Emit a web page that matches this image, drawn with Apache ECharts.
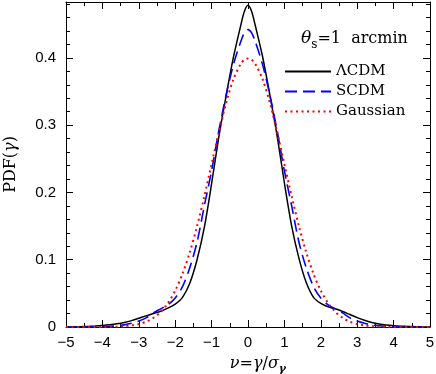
<!DOCTYPE html>
<html>
<head>
<meta charset="utf-8">
<script src="https://cdn.jsdelivr.net/npm/echarts@6/dist/echarts.min.js"></script>
<style>html,body{margin:0;padding:0;background:#fff;}#c{width:436px;height:374px;}</style>
</head>
<body>
<div id="c"></div>
<script>
// nu values
var nu = [-5.0,-4.8,-4.6,-4.4,-4.2,-4.0,-3.8,-3.6,-3.4,-3.2,-3.0,-2.8,-2.6,-2.4,-2.2,-2.0,-1.8,-1.6,-1.4,-1.2,-1.0,-0.8,-0.6,-0.4,-0.2,-0.1,
          0.0,0.1,0.2,0.4,0.6,0.8,1.0,1.2,1.4,1.6,1.8,2.0,2.2,2.4,2.6,2.8,3.0,3.2,3.4,3.6,3.8,4.0,4.2,4.4,4.6,4.8,5.0];
var lcdm = [0.0001,0.0002,0.0004,0.0008,0.0014,0.0022,0.0033,0.0048,0.0068,0.0095,0.0130,0.0165,0.0200,0.0235,0.0280,0.0340,0.0440,0.0650,0.1000,0.1480,0.2130,0.2830,0.3440,0.4010,0.4480,0.4690,
            0.4780,0.4690,0.4480,0.4020,0.3450,0.2840,0.2140,0.1500,0.1020,0.0660,0.0440,0.0350,0.0300,0.0270,0.0230,0.0185,0.0140,0.0100,0.0068,0.0045,0.0030,0.0020,0.0013,0.0008,0.0004,0.0002,0.0001];
var scdm = [0.0000,0.0000,0.0001,0.0001,0.0003,0.0005,0.0010,0.0018,0.0032,0.0055,0.0088,0.0135,0.0210,0.0270,0.0330,0.0430,0.0600,0.0880,0.1260,0.1800,0.2320,0.2920,0.3450,0.3900,0.4240,0.4370,
            0.4420,0.4370,0.4240,0.3900,0.3450,0.2920,0.2320,0.1800,0.1260,0.0880,0.0600,0.0430,0.0330,0.0270,0.0210,0.0135,0.0088,0.0055,0.0032,0.0018,0.0010,0.0005,0.0003,0.0001,0.0001,0.0000,0.0000];
var gauss = [0.0000,0.0000,0.0000,0.0000,0.0001,0.0001,0.0003,0.0006,0.0012,0.0024,0.0044,0.0079,0.0136,0.0224,0.0355,0.0540,0.0790,0.1109,0.1497,0.1942,0.2420,0.2897,0.3332,0.3683,0.3910,0.3970,
             0.3989,0.3970,0.3910,0.3683,0.3332,0.2897,0.2420,0.1942,0.1497,0.1109,0.0790,0.0540,0.0355,0.0224,0.0136,0.0079,0.0044,0.0024,0.0012,0.0006,0.0003,0.0001,0.0001,0.0000,0.0000,0.0000,0.0000];
var seriesNames = ['ΛCDM','SCDM','Gaussian'];
var xTicks = {min:-5, max:5, step:1};
var yTicks = {min:0, max:0.483, major:0.1, minor:0.02};

function pairs(arr){ return nu.map(function(x,i){ return [x, arr[i]]; }); }
var serif = 'DejaVu Serif';
var sans = 'Liberation Sans';

var chart = echarts.init(document.getElementById('c'), null, {renderer:'canvas'});
function xAx(pos, labels){
  return {type:'value', position:pos, min:xTicks.min, max:xTicks.max, interval:xTicks.step,
    axisLine:{show:true, onZero:false, lineStyle:{color:'#000', width:1}},
    axisTick:{show:true, inside:true, length:7, lineStyle:{color:'#000'}},
    minorTick:{show:true, splitNumber:2, length:4, lineStyle:{color:'#000'}},
    splitLine:{show:false},
    axisLabel:{show:labels, margin:8, color:'#000', fontFamily:sans, fontSize:15,
      formatter:function(v){ return v<0 ? '\u2212'+Math.abs(v) : String(v); }},
    name: labels ? '{i|ν}={i|γ}/{i|σ}{sub|γ}' : '',
    nameLocation:'middle', nameGap:26,
    nameTextStyle:{fontFamily:serif, fontSize:16, color:'#000', padding:[0,0,0,20],
      rich:{i:{fontFamily:serif, fontStyle:'italic', fontSize:16, lineHeight:22},
            sub:{fontFamily:serif, fontStyle:'italic', fontWeight:'bold', fontSize:11, lineHeight:11, verticalAlign:'bottom'}}}
  };
}
function yAx(pos, step, len, labels, line){
  return {type:'value', position:pos, min:yTicks.min, max:yTicks.max, interval:step,
    axisLine:{show:line, onZero:false, lineStyle:{color:'#000', width:1}},
    axisTick:{show:true, inside:true, length:len, lineStyle:{color:'#000'}},
    splitLine:{show:false},
    axisLabel:{show:labels, margin:10, color:'#000', fontFamily:sans, fontSize:15,
      formatter:function(v){ var k=Math.round(v*10); if (Math.abs(v*10-k)>1e-6) return ''; return k===0?'0':(k/10).toFixed(1); }},
    name: labels ? 'PDF({i|γ})' : '',
    nameLocation:'middle', nameGap:47, nameRotate:90,
    nameTextStyle:{fontFamily:serif, fontSize:16, color:'#000',
      rich:{i:{fontFamily:serif, fontStyle:'italic', fontSize:16}}}
  };
}
var option = {
  animation:false,
  backgroundColor:'#fff',
  grid:{left:66, right:6, top:2, bottom:47, containLabel:false, outerBoundsMode:'none'},
  title:{text:'{t|θ}{s|s}{n|=1  arcmin}', left:296, top:22,
    textStyle:{fontWeight:'normal', rich:{
      t:{fontFamily:serif, fontStyle:'italic', fontWeight:'normal', fontSize:17, lineHeight:24, color:'#000'},
      s:{fontFamily:serif, fontWeight:'normal', fontSize:12, lineHeight:12, verticalAlign:'bottom', color:'#000'},
      n:{fontFamily:serif, fontWeight:'normal', fontSize:16, lineHeight:24, color:'#000'}}}},
  legend:{orient:'vertical', left:279, top:59, itemWidth:46, itemHeight:14, itemGap:5,
    itemStyle:{opacity:0},
    data:seriesNames, textStyle:{fontFamily:serif, fontSize:15, color:'#000'}},
  xAxis:[xAx('bottom', true), xAx('top', false)],
  yAxis:[yAx('left', yTicks.major, 7, true, true), yAx('left', yTicks.minor, 4, false, false),
         yAx('right', yTicks.major, 7, false, true), yAx('right', yTicks.minor, 4, false, false)],
  series:[
    {name:seriesNames[0], type:'line', data:pairs(lcdm), symbol:'none', smooth:0.3, xAxisIndex:0, yAxisIndex:0,
     lineStyle:{color:'#000', width:1.5, type:'solid'}, itemStyle:{color:'#000'}},
    {name:seriesNames[1], type:'line', data:pairs(scdm), symbol:'none', smooth:0.3, xAxisIndex:0, yAxisIndex:0,
     lineStyle:{color:'#0000ff', width:1.6, type:[12,6]}, itemStyle:{color:'#0000ff'}},
    {name:seriesNames[2], type:'line', data:pairs(gauss), symbol:'none', smooth:0.3, xAxisIndex:0, yAxisIndex:0,
     lineStyle:{color:'#ff0000', width:2, type:[2,3.5]}, itemStyle:{color:'#ff0000'}}
  ]
};
chart.setOption(option);
</script>
</body>
</html>
